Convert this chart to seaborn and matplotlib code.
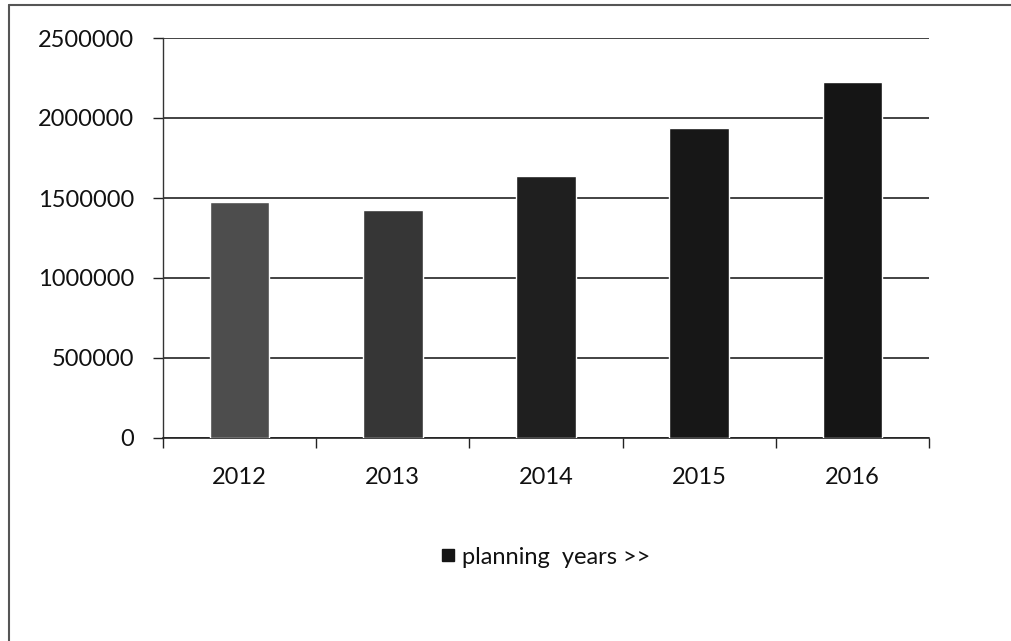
import matplotlib
matplotlib.use("Agg")
import matplotlib.pyplot as plt
from matplotlib.lines import Line2D
import seaborn as sns
import pandas as pd

# Planned totals per year
years = ["2012", "2013", "2014", "2015", "2016"]
values = [1475000, 1425000, 1640000, 1937000, 2225000]
series_name = "planning  years >>"
y_ticks = [0, 500000, 1000000, 1500000, 2000000, 2500000]

bar_colors = ["#4d4d4d", "#363636", "#1f1f1f", "#171717", "#151515"]

sns.set_theme(style="white")
plt.rcParams["font.family"] = ["Lato", "DejaVu Sans"]

df = pd.DataFrame({"year": years, "value": values})

fig = plt.figure(figsize=(10.12, 6.41), dpi=100)
ax = fig.add_axes([163 / 1012, 1 - 438 / 641, (929 - 163) / 1012, 400 / 641])

sns.barplot(data=df, x="year", y="value", hue="year", palette=bar_colors,
            width=0.39, legend=False, ax=ax, saturation=1, zorder=3)

ax.set_ylim(0, 2500000)
ax.set_xlim(-0.5, len(years) - 0.5)
ax.set_yticks(y_ticks)
ax.set_yticklabels([str(v) for v in y_ticks], fontsize=17, color="#111111")
ax.set_xlabel("")
ax.set_ylabel("")
ax.tick_params(axis="x", which="major", length=0, pad=21, labelsize=17, labelcolor="#111111")
ax.set_xticks([i - 0.5 for i in range(len(years) + 1)], minor=True)
ax.tick_params(axis="x", which="minor", length=7, width=1, color="#222222", direction="out", bottom=True)
ax.tick_params(axis="y", length=7, width=1, color="#222222", direction="out", left=True, pad=14)

ax.grid(axis="y", color="#222222", linewidth=1.2, zorder=0)
ax.grid(axis="x", visible=False)
for side in ["top", "right"]:
    ax.spines[side].set_visible(False)
ax.spines["left"].set_color("#333333")
ax.spines["left"].set_linewidth(1)
ax.spines["bottom"].set_color("#222222")
ax.spines["bottom"].set_linewidth(1.2)

# Legend below the plot
handle = Line2D([], [], marker="s", linestyle="none", markersize=9,
                markerfacecolor="#151515", markeredgecolor="#151515")
fig.legend([handle], [series_name], loc="center", bbox_to_anchor=(543 / 1012, 1 - 557 / 641),
           frameon=False, fontsize=17, handletextpad=0.1, handlelength=1.0,
           labelcolor="#111111")

# Chart area border (left and top edges)
fig.add_artist(Line2D([9 / 1012, 9 / 1012], [0, 1 - 5 / 641], transform=fig.transFigure,
                      color="#555555", linewidth=1.5))
fig.add_artist(Line2D([9 / 1012, 1], [1 - 5 / 641, 1 - 5 / 641], transform=fig.transFigure,
                      color="#555555", linewidth=1.5))

fig.savefig("out.png", dpi=100, facecolor="white")
